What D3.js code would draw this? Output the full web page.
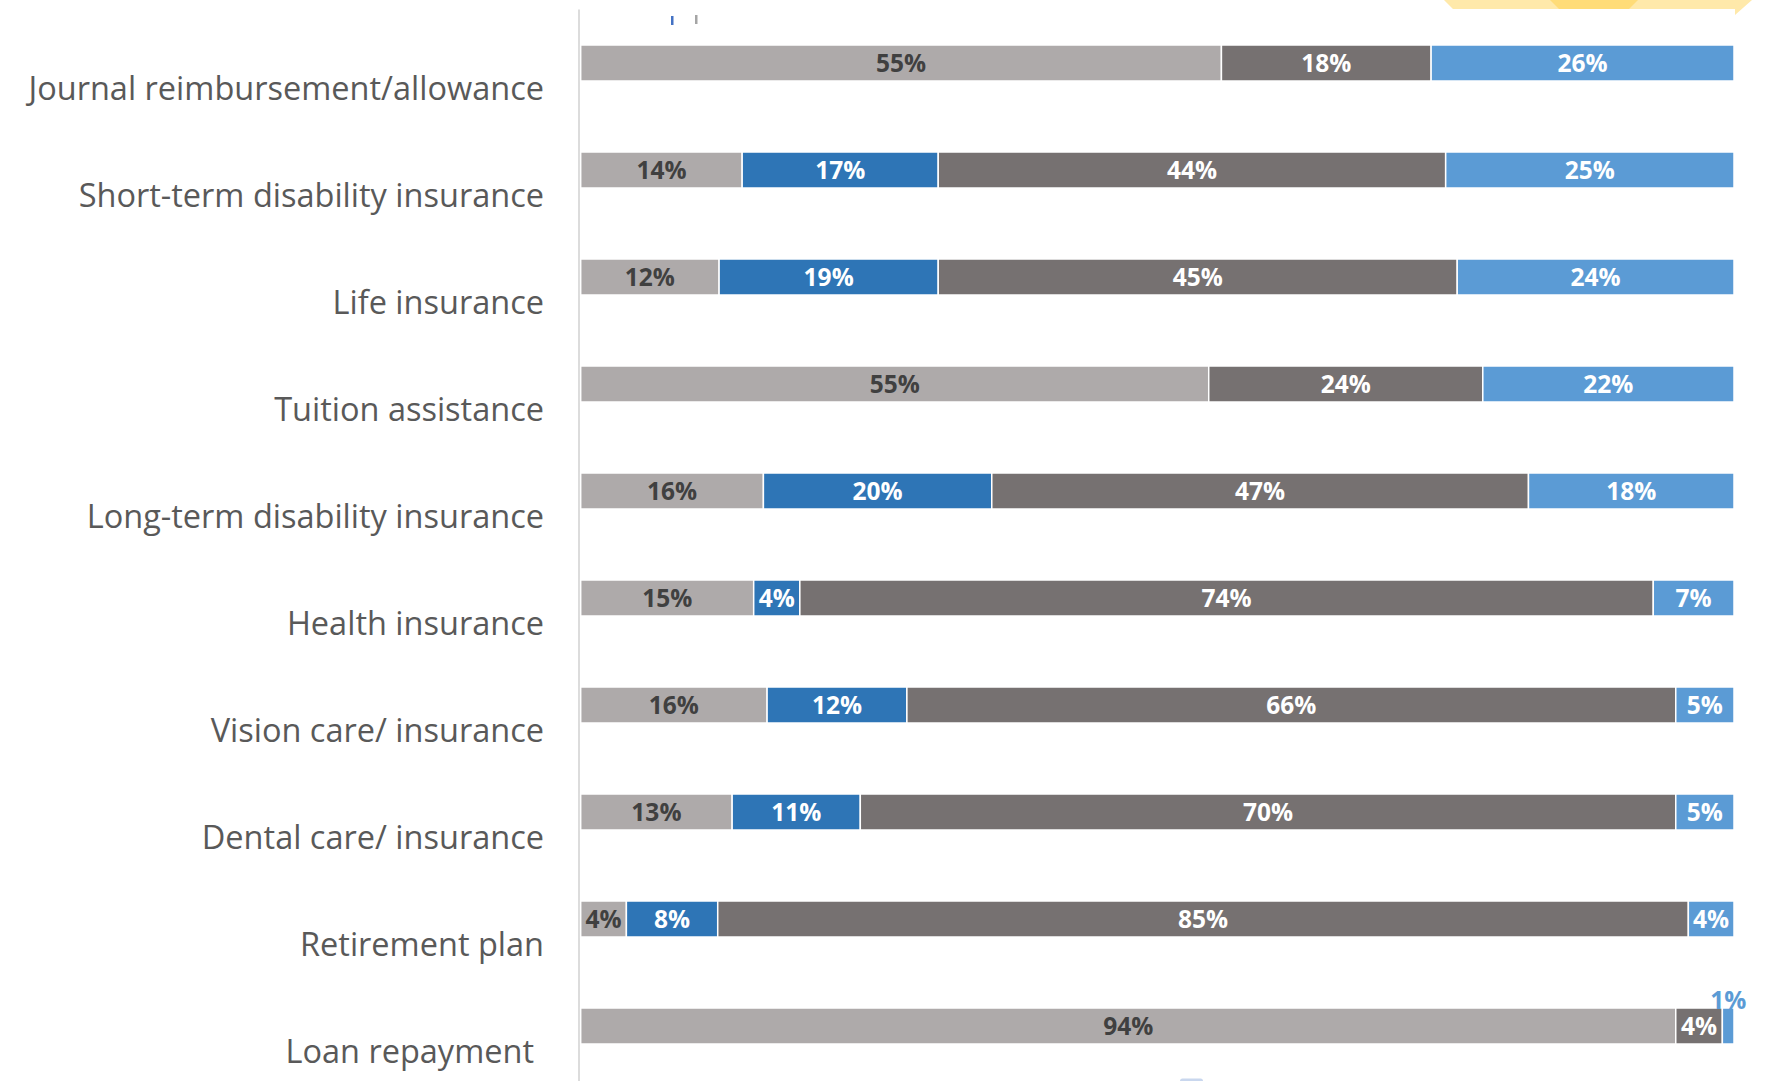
<!DOCTYPE html>
<html>
<head>
<meta charset="utf-8">
<script src="https://cdn.jsdelivr.net/npm/d3@7"></script>
<style>
  html, body { margin: 0; padding: 0; background: #ffffff; }
  svg { display: block; }
</style>
</head>
<body>
<svg id="chart" width="1767" height="1081"></svg>
<script>
// Benefit categories, top to bottom
const categories = [
  "Journal reimbursement/allowance",
  "Short-term disability insurance",
  "Life insurance",
  "Tuition assistance",
  "Long-term disability insurance",
  "Health insurance",
  "Vision care/ insurance",
  "Dental care/ insurance",
  "Retirement plan",
  "Loan repayment"
];

// Share of respondents per segment (percent), stacked left to right
const seriesKeys = ["s1", "s2", "s3", "s4"];
const s1 = [55, 14, 12, 55, 16, 15, 16, 13, 4, 94];
const s2 = [0, 17, 19, 0, 20, 4, 12, 11, 8, 0];
const s3 = [18, 44, 45, 24, 47, 74, 66, 70, 85, 4];
const s4 = [26, 25, 24, 22, 18, 7, 5, 5, 4, 1];

const seriesColors = ["#AEAAAA", "#2E75B6", "#767171", "#5B9BD5"];
const labelColors  = ["#404040", "#ffffff", "#ffffff", "#ffffff"];

const rows = categories.map((c, i) => ({ category: c, s1: s1[i], s2: s2[i], s3: s3[i], s4: s4[i] }));

const svg = d3.select("#chart");

// 100% stacked layout
const stack = d3.stack().keys(seriesKeys).offset(d3.stackOffsetExpand);
const layers = stack(rows);

const x = d3.scaleLinear().domain([0, 1]).range([580.7, 1734]);
const y = d3.scaleBand()
  .domain(categories)
  .range([45, 1044])
  .paddingInner(71 / 107)
  .paddingOuter(0);

// Header ribbon in the top right corner
svg.append("polygon")
  .attr("points", "1444,0 1752,0 1735,15 1735,9 1453,9")
  .attr("fill", "#FFE9AA");
svg.append("polygon")
  .attr("points", "1550,0 1638,0 1629,9 1559,9")
  .attr("fill", "#FFDC78");

// Small legend markers at the top
svg.append("rect").attr("x", 671).attr("y", 16).attr("width", 2.5).attr("height", 9).attr("fill", "#4472C4");
svg.append("rect").attr("x", 695).attr("y", 15).attr("width", 2.5).attr("height", 9).attr("fill", "#A5A5A5");

// Footer marker
svg.append("rect").attr("x", 1180).attr("y", 1078.5).attr("width", 23).attr("height", 6).attr("rx", 2.5)
  .attr("fill", "#C9D7EE");

// Category axis line
svg.append("line")
  .attr("x1", 579).attr("x2", 579)
  .attr("y1", 9.5).attr("y2", 1081)
  .attr("stroke", "#DCDCDC").attr("stroke-width", 2);

// Category labels
const labelGroup = svg.append("g")
  .attr("font-family", "'Open Sans', 'Noto Sans', sans-serif")
  .attr("font-size", 32.5)
  .attr("fill", "#595959")
  .attr("text-anchor", "end");

labelGroup.selectAll("text")
  .data(categories)
  .join("text")
  .attr("x", (d, i) => i === categories.length - 1 ? 534 : 544)
  .attr("y", d => y(d) + y.bandwidth() / 2 + 26)
  .attr("dy", "0.35em")
  .text(d => d);

// Stacked bars
const barGroup = svg.append("g");
layers.forEach((layer, li) => {
  barGroup.append("g")
    .attr("fill", seriesColors[li])
    .selectAll("rect")
    .data(layer.filter(d => d[1] - d[0] > 0))
    .join("rect")
    .attr("x", d => x(d[0]))
    .attr("y", d => y(d.data.category))
    .attr("width", d => x(d[1]) - x(d[0]))
    .attr("height", y.bandwidth())
    .attr("stroke", "#ffffff")
    .attr("stroke-width", 1.5);
});

// Value labels
const valueGroup = svg.append("g")
  .attr("font-family", "'Open Sans', 'Noto Sans', sans-serif")
  .attr("font-weight", 700)
  .attr("font-size", 24.5)
  .attr("text-anchor", "middle");

layers.forEach((layer, li) => {
  const key = seriesKeys[li];
  layer.forEach(d => {
    const v = d.data[key];
    if (!v) return;
    const w = x(d[1]) - x(d[0]);
    const cx = (x(d[0]) + x(d[1])) / 2;
    const cy = y(d.data.category) + y.bandwidth() / 2;
    const t = valueGroup.append("text").text(v + "%");
    if (w < 30) {
      // too narrow: label sits above the segment in the series colour
      t.attr("x", cx).attr("y", y(d.data.category) - 8).attr("dy", "0.35em")
        .attr("fill", seriesColors[li]);
    } else {
      t.attr("x", cx).attr("y", cy).attr("dy", "0.35em")
        .attr("fill", labelColors[li]);
    }
  });
});
</script>
</body>
</html>
